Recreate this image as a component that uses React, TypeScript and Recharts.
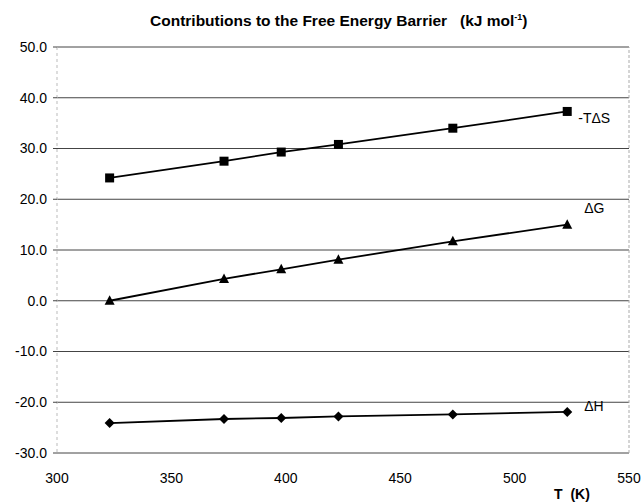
import React from 'react';
import { LineChart, Line, XAxis, YAxis, CartesianGrid, ReferenceLine, LabelList, Label } from 'recharts';

const temperatures = [323, 373, 398, 423, 473, 523];
const minusTdS = [24.2, 27.5, 29.3, 30.8, 34.0, 37.3];
const dG = [0.0, 4.3, 6.2, 8.1, 11.7, 15.0];
const dH = [-24.1, -23.3, -23.1, -22.8, -22.4, -21.9];
const xTicks = [300, 350, 400, 450, 500, 550];
const yTicks = [-30, -20, -10, 0, 10, 20, 30, 40, 50];

const data = temperatures.map((T, i) => ({ T, mTdS: minusTdS[i], dG: dG[i], dH: dH[i] }));

const FONT = '"Liberation Sans", Arial, Helvetica, sans-serif';

const Square = (p: any) => {
  const { cx, cy, key } = p;
  if (cx == null || cy == null) return null;
  return <rect key={key} x={cx - 4.5} y={cy - 4.5} width={9} height={9} fill="#000" />;
};
const Triangle = (p: any) => {
  const { cx, cy, key } = p;
  if (cx == null || cy == null) return null;
  return <polygon key={key} points={`${cx},${cy - 5.5} ${cx + 5},${cy + 4} ${cx - 5},${cy + 4}`} fill="#000" />;
};
const Diamond = (p: any) => {
  const { cx, cy, key } = p;
  if (cx == null || cy == null) return null;
  return <polygon key={key} points={`${cx},${cy - 5} ${cx + 5},${cy} ${cx},${cy + 5} ${cx - 5},${cy}`} fill="#000" />;
};

const endLabel = (text: string, dx: number, dy: number) => (props: any) => {
  const { x, y, index } = props;
  if (index !== data.length - 1) return null;
  return (
    <text x={x + dx} y={y + dy} fontFamily={FONT} fontSize={14} fill="#000" dominantBaseline="central">
      {text}
    </text>
  );
};

export default function App() {
  return (
    <div style={{ position: 'absolute', left: 0, top: 0, width: 643, height: 502, overflow: 'hidden', background: '#fff' }}>
      <div
        style={{
          position: 'absolute',
          left: 150,
          top: 7,
          fontFamily: FONT,
          fontWeight: 'bold',
          fontSize: 15.5,
          whiteSpace: 'pre',
          lineHeight: '20px',
        }}
      >
        {'Contributions to the Free Energy Barrier   (kJ mol'}
        <sup style={{ fontSize: 9 }}>-1</sup>
        {')'}
      </div>
      <LineChart width={643} height={502} data={data} margin={{ top: 47, right: 14, bottom: 19, left: 0 }}>
        <CartesianGrid horizontal={true} vertical={false} stroke="#444" strokeWidth={1} />
        <XAxis
          type="number"
          dataKey="T"
          domain={[300, 550]}
          ticks={xTicks}
          interval={0}
          height={30}
          axisLine={false}
          tickLine={false}
          tickMargin={14}
          tick={{ fill: '#000', fontSize: 14, fontFamily: FONT }}
        >
          <Label
            content={(p: any) => {
              const vb = p.viewBox;
              return (
                <text x={vb.x + vb.width - 57} y={vb.y + 46} fontFamily={FONT} fontWeight="bold" fontSize={14} fill="#000" textAnchor="middle" style={{ whiteSpace: 'pre' }}>
                  {'T  (K)'}
                </text>
              );
            }}
          />
        </XAxis>
        <YAxis
          type="number"
          domain={[-30, 50]}
          ticks={yTicks}
          interval={0}
          width={57}
          axisLine={{ stroke: '#bbb', strokeDasharray: '3 3' }}
          tickLine={{ stroke: '#444' }}
          tickSize={4}
          tickMargin={6}
          tickFormatter={(v: number) => v.toFixed(1)}
          tick={{ fill: '#000', fontSize: 14, fontFamily: FONT }}
        />
        <ReferenceLine x={550} stroke="#aaa" strokeDasharray="3 2" />
        <Line dataKey="mTdS" stroke="#000" strokeWidth={1.8} dot={Square} isAnimationActive={false}>
          <LabelList dataKey="mTdS" content={endLabel('-TΔS', 11, 7)} />
        </Line>
        <Line dataKey="dG" stroke="#000" strokeWidth={1.8} dot={Triangle} isAnimationActive={false}>
          <LabelList dataKey="dG" content={endLabel('ΔG', 17, -17)} />
        </Line>
        <Line dataKey="dH" stroke="#000" strokeWidth={1.8} dot={Diamond} isAnimationActive={false}>
          <LabelList dataKey="dH" content={endLabel('ΔH', 17, -6)} />
        </Line>
      </LineChart>
    </div>
  );
}
